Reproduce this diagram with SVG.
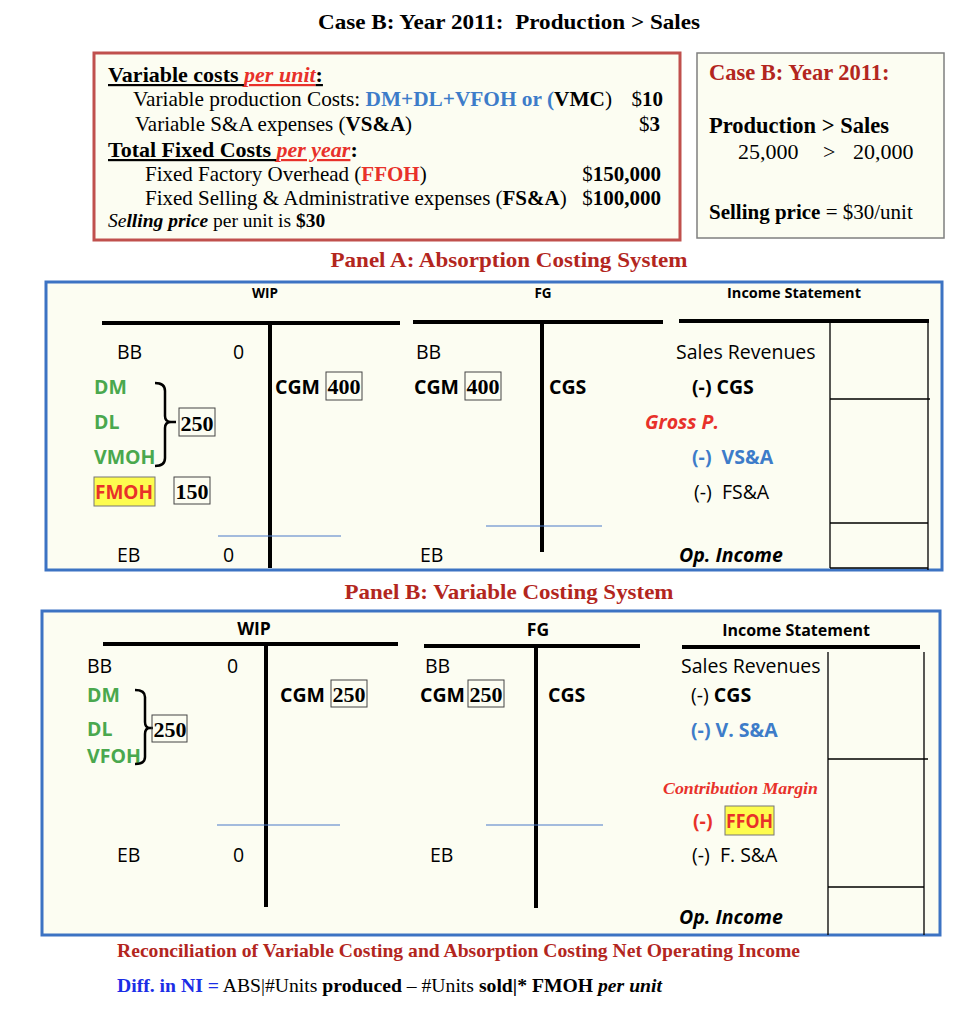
<svg xmlns="http://www.w3.org/2000/svg" width="960" height="1024" viewBox="0 0 960 1024">
<style>
.serif{font-family:"Liberation Serif","Times New Roman",serif;}
.sans{font-family:"Open Sans","Liberation Sans",sans-serif;}
.b{font-weight:bold;}
.i{font-style:italic;}
.dred{fill:#b3261e;}
.red{fill:#e8312a;}
.blue{fill:#3d7cc9;}
.green{fill:#4aa84e;}
.tl{stroke:#000;stroke-width:4;fill:none;}
.col{stroke:#000;stroke-width:1.3;fill:none;}
.bl{stroke:#4a7ac8;stroke-width:1.2;fill:none;}
.panel{fill:#fcfdf2;stroke:#3c73c3;stroke-width:3;}
.nbox{fill:none;stroke:#444;stroke-width:1;}
.hl{fill:#fdfc4f;stroke:#777;stroke-width:1;}
.brace{stroke:#000;stroke-width:2.5;fill:none;}
.t19{font-size:19.5px;}
</style>
<rect width="960" height="1024" fill="#ffffff"/>

<g id="title">
<text x="509" y="29" text-anchor="middle" class="serif b" font-size="22" textLength="382" lengthAdjust="spacingAndGlyphs">Case B: Year 2011:&#160; Production &gt; Sales</text>
</g>

<g id="costs-box">
<rect x="94" y="53" width="586" height="187" fill="#fcfdf2" stroke="#c0504d" stroke-width="3"/>
<text x="108" y="82" class="serif b" font-size="22"><tspan text-decoration="underline">Variable costs </tspan><tspan class="red i" text-decoration="underline">per unit</tspan><tspan text-decoration="underline">:</tspan></text>
<text x="133" y="106" class="serif" font-size="21" textLength="479" lengthAdjust="spacingAndGlyphs">Variable production Costs: <tspan class="b blue">DM+DL+VFOH or (</tspan><tspan class="b">VMC</tspan>)</text>
<text x="663" y="106" class="serif" font-size="21" text-anchor="end">$<tspan class="b">10</tspan></text>
<text x="135" y="131" class="serif" font-size="21">Variable S&amp;A expenses (<tspan class="b">VS&amp;A</tspan>)</text>
<text x="660" y="131" class="serif" font-size="21" text-anchor="end">$<tspan class="b">3</tspan></text>
<text x="108" y="157" class="serif b" font-size="22"><tspan text-decoration="underline">Total Fixed Costs </tspan><tspan class="red i" text-decoration="underline">per year</tspan><tspan>:</tspan></text>
<text x="145" y="181" class="serif" font-size="21">Fixed Factory Overhead (<tspan class="b red">FFOH</tspan>)</text>
<text x="661" y="181" class="serif" font-size="21" text-anchor="end">$<tspan class="b">150,000</tspan></text>
<text x="145" y="205" class="serif" font-size="21">Fixed Selling &amp; Administrative expenses (<tspan class="b">FS&amp;A</tspan>)</text>
<text x="661" y="205" class="serif" font-size="21" text-anchor="end">$<tspan class="b">100,000</tspan></text>
<text x="108" y="227" class="serif" font-size="19.5"><tspan class="i">Se</tspan><tspan class="b i">lling price</tspan> per unit is <tspan class="b">$30</tspan></text>
</g>

<g id="case-box">
<rect x="697" y="53" width="247" height="185" fill="#fcfdf2" stroke="#7f7f7f" stroke-width="1.5"/>
<text x="709" y="80" class="serif b dred" font-size="22.5">Case B: Year 2011:</text>
<text x="709" y="133" class="serif b" font-size="22.5">Production &gt; Sales</text>
<text x="738" y="159" class="serif" font-size="22">25,000</text>
<text x="823" y="159" class="serif" font-size="22">&gt;</text>
<text x="853" y="159" class="serif" font-size="22">20,000</text>
<text x="709" y="219" class="serif" font-size="21"><tspan class="b">Selling price</tspan> = $30/unit</text>
</g>

<g id="panelA-label">
<text x="509" y="267" text-anchor="middle" class="serif b dred" font-size="22" textLength="357" lengthAdjust="spacingAndGlyphs">Panel A: Absorption Costing System</text>
</g>

<g id="panelA">
<rect class="panel" x="46" y="282" width="896" height="288"/>
<text x="265" y="298" text-anchor="middle" class="sans b" font-size="13.5">WIP</text>
<text x="543" y="298" text-anchor="middle" class="sans b" font-size="13.5">FG</text>
<text x="794" y="298" text-anchor="middle" class="sans b" font-size="14.5">Income Statement</text>

<g id="A-wip">
<path class="tl" d="M102,323 H400 M270,323 V568"/>
<text x="117" y="359" class="sans t19">BB</text>
<text x="233" y="359" class="sans t19">0</text>
<text x="94" y="394" class="sans t19 b green">DM</text>
<text x="94" y="429" class="sans t19 b green">DL</text>
<text x="94" y="464" class="sans t19 b green">VMOH</text>
<path class="brace" d="M155,383 Q165,383 165,391 L165,416 Q165,422 171,422 L176,422 M171,422 Q165,422 165,428 L165,458 Q165,466 155,466"/>
<rect class="nbox" x="179" y="408" width="36" height="28"/>
<text x="197" y="431" text-anchor="middle" class="serif b" font-size="22">250</text>
<rect class="hl" x="94" y="477" width="61" height="29"/>
<text x="95" y="499" class="sans t19 b red" textLength="58" lengthAdjust="spacingAndGlyphs">FMOH</text>
<rect class="nbox" x="174" y="477" width="36" height="27"/>
<text x="192" y="499" text-anchor="middle" class="serif b" font-size="22">150</text>
<text x="275" y="394" class="sans t19 b">CGM</text>
<rect class="nbox" x="326" y="372" width="36" height="28"/>
<text x="344" y="394" text-anchor="middle" class="serif b" font-size="22">400</text>
<path class="bl" d="M218,536 H341"/>
<text x="117" y="562" class="sans t19">EB</text>
<text x="223" y="562" class="sans t19">0</text>
</g>

<g id="A-fg">
<path class="tl" d="M413,322 H663 M542,322 V552"/>
<text x="416" y="359" class="sans t19">BB</text>
<text x="414" y="394" class="sans t19 b">CGM</text>
<rect class="nbox" x="465" y="372" width="36" height="28"/>
<text x="483" y="394" text-anchor="middle" class="serif b" font-size="22">400</text>
<text x="549" y="394" class="sans t19 b">CGS</text>
<path class="bl" d="M486,526 H602"/>
<text x="420" y="562" class="sans t19">EB</text>
</g>

<g id="A-is">
<path class="tl" d="M679,321 H929"/>
<path class="col" d="M830,323 V568 M928,323 V570 M830,399 H930 M830,523 H928 M830,568 H928"/>
<text x="676" y="359" class="sans t19">Sales Revenues</text>
<text x="692" y="394" class="sans t19 b">(-) CGS</text>
<text x="645" y="429" class="sans t19 b i red">Gross P.</text>
<text x="692" y="464" class="sans t19 b blue">(-)&#160; VS&amp;A</text>
<text x="694" y="499" class="sans t19">(-)&#160; FS&amp;A</text>
<text x="679" y="562" class="sans t19 b i">Op. Income</text>
</g>
</g>

<g id="panelB-label">
<text x="509" y="599" text-anchor="middle" class="serif b dred" font-size="22" textLength="329" lengthAdjust="spacingAndGlyphs">Panel B: Variable Costing System</text>
</g>

<g id="panelB">
<rect class="panel" x="42" y="611" width="898" height="324"/>
<text x="254" y="635" text-anchor="middle" class="sans b" font-size="17.5">WIP</text>
<text x="538" y="636" text-anchor="middle" class="sans b" font-size="17.5">FG</text>
<text x="796" y="636" text-anchor="middle" class="sans b" font-size="16">Income Statement</text>

<g id="B-wip">
<path class="tl" d="M103,644 H398 M266,644 V907"/>
<text x="87" y="673" class="sans t19">BB</text>
<text x="227" y="673" class="sans t19">0</text>
<text x="87" y="702" class="sans t19 b green">DM</text>
<text x="87" y="736" class="sans t19 b green">DL</text>
<text x="87" y="763" class="sans t19 b green">VFOH</text>
<path class="brace" d="M135,690 Q145,690 145,697 L145,722 Q145,728 150,728 L153,728 M150,728 Q145,728 145,734 L145,757 Q145,764 135,764"/>
<rect class="nbox" x="152" y="715" width="35" height="27"/>
<text x="170" y="737" text-anchor="middle" class="serif b" font-size="22">250</text>
<text x="280" y="702" class="sans t19 b">CGM</text>
<rect class="nbox" x="331" y="680" width="36" height="27"/>
<text x="349" y="702" text-anchor="middle" class="serif b" font-size="22">250</text>
<path class="bl" d="M217,825 H340"/>
<text x="117" y="862" class="sans t19">EB</text>
<text x="233" y="862" class="sans t19">0</text>
</g>

<g id="B-fg">
<path class="tl" d="M424,646 H640 M536,646 V908"/>
<text x="425" y="673" class="sans t19">BB</text>
<text x="420" y="702" class="sans t19 b">CGM</text>
<rect class="nbox" x="468" y="680" width="36" height="27"/>
<text x="486" y="702" text-anchor="middle" class="serif b" font-size="22">250</text>
<text x="548" y="702" class="sans t19 b">CGS</text>
<path class="bl" d="M486,825 H603"/>
<text x="430" y="862" class="sans t19">EB</text>
</g>

<g id="B-is">
<path class="tl" d="M682,647 H920"/>
<path class="col" d="M828,652 V935 M924,652 V935 M828,759 H928 M828,887 H924"/>
<text x="681" y="673" class="sans t19">Sales Revenues</text>
<text x="691" y="702" class="sans t19">(-) <tspan class="b">CGS</tspan></text>
<text x="691" y="737" class="sans t19 b blue">(-) V. S&amp;A</text>
<text x="663" y="794" class="serif b i red" font-size="17.5" textLength="155" lengthAdjust="spacingAndGlyphs">Contribution Margin</text>
<rect class="hl" x="725" y="806" width="49" height="29"/>
<text x="693" y="828" class="sans t19 b red">(-)</text>
<text x="726" y="828" class="sans t19 b red" textLength="47" lengthAdjust="spacingAndGlyphs">FFOH</text>
<text x="692" y="862" class="sans t19">(-)&#160; F. S&amp;A</text>
<text x="679" y="924" class="sans t19 b i">Op. Income</text>
</g>
</g>

<g id="reconciliation">
<text x="117" y="957" class="serif b dred" font-size="19" textLength="683" lengthAdjust="spacingAndGlyphs">Reconciliation of Variable Costing and Absorption Costing Net Operating Income</text>
<text x="117" y="992" class="serif" font-size="19" textLength="545" lengthAdjust="spacingAndGlyphs"><tspan class="b" fill="#1b2ee6">Diff. in NI =</tspan> ABS|#Units <tspan class="b">produced</tspan> – #Units <tspan class="b">sold|* FMOH</tspan> <tspan class="b i">per unit</tspan></text>
</g>
</svg>
